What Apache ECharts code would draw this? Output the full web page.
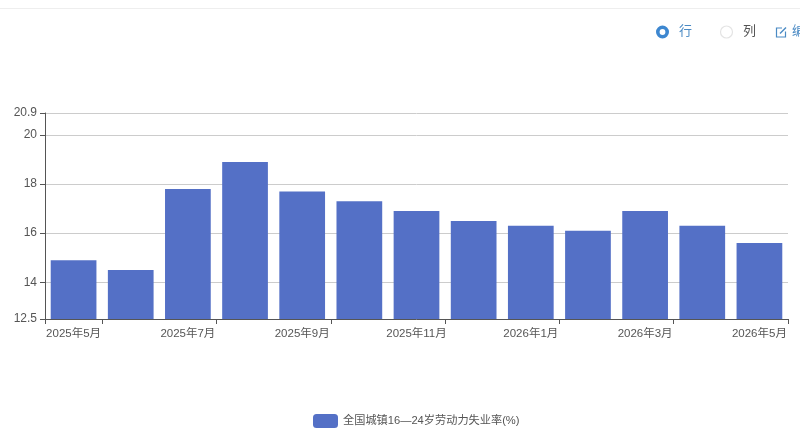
<!DOCTYPE html>
<html><head><meta charset="utf-8">
<style>html,body{margin:0;padding:0;background:#fff}#c{width:800px;height:437px}</style>
<script src="https://cdn.jsdelivr.net/npm/echarts@6/dist/echarts.min.js"></script>
</head><body><div id="c"></div>
<script>
const categories = ['2025年5月','2025年6月','2025年7月','2025年8月','2025年9月','2025年10月','2025年11月','2025年12月','2026年1月','2026年2月','2026年3月','2026年4月','2026年5月'];
const values = [14.9,14.5,17.8,18.9,17.7,17.3,16.9,16.5,16.3,16.1,16.9,16.3,15.6];
const seriesName = '全国城镇16—24岁劳动力失业率(%)';
const yTicks = [12.5,14,16,18,20,20.9];
const font = '"Liberation Sans","Noto Sans CJK SC",sans-serif';
const chart = echarts.init(document.getElementById('c'));
chart.setOption({
  animation:false,
  textStyle:{fontFamily:font},
  color:['#5470c6'],
  grid:{left:45,right:12,top:113,bottom:118,containLabel:false},
  legend:{bottom:4,left:308,itemWidth:25,itemHeight:14,itemGap:5,
    textStyle:{color:'#555',fontSize:11.2,fontFamily:font},data:[seriesName]},
  xAxis:{type:'category',data:categories,
    axisLine:{lineStyle:{color:'#555'}},axisTick:{show:true,interval:(i)=>i===0||i%2===1,lineStyle:{color:'#555'}},
    axisLabel:{interval:1,color:'#555',fontSize:11.5,margin:8,padding:[1,0,0,0],fontFamily:font}},
  yAxis:{type:'value',min:12.5,max:20.9,
    axisLine:{show:true,lineStyle:{color:'#555'}},axisTick:{show:true,lineStyle:{color:'#555'},customValues:yTicks},
    splitLine:{lineStyle:{color:'#ccc'}},
    axisLabel:{color:'#555',fontSize:12,margin:8,fontFamily:font,customValues:yTicks,showMinLabel:true,showMaxLabel:true}},
  series:[{name:seriesName,type:'bar',barCategoryGap:'20%',data:values,itemStyle:{color:'#5470c6'}}],
  graphic:[
    {type:'rect',shape:{x:0,y:8,width:800,height:1},style:{fill:'#eeeeee'},silent:true},
    {type:'circle',shape:{cx:662.5,cy:32,r:4.7},style:{fill:'#fff',stroke:'#3d87d0',lineWidth:3.6}},
    {type:'text',x:679,y:25,style:{text:'行',fill:'#4a8ac4',fontSize:13,fontFamily:font}},
    {type:'circle',shape:{cx:726.5,cy:32,r:6},style:{fill:'#fff',stroke:'#e4e4e4',lineWidth:1.2}},
    {type:'text',x:743,y:25,style:{text:'列',fill:'#555',fontSize:13,fontFamily:font}},
    {type:'polyline',shape:{points:[[782,28],[776.5,28],[776.5,37],[785.5,37],[785.5,31.5]]},style:{fill:null,stroke:'#4a8ac4',lineWidth:1.2}},
    {type:'line',shape:{x1:780,y1:33.5,x2:786,y2:27.5},style:{stroke:'#4a8ac4',lineWidth:1.5}},
    {type:'text',x:792,y:25,style:{text:'编',fill:'#4a8ac4',fontSize:13,fontFamily:font}}
  ]
});
</script></body></html>
